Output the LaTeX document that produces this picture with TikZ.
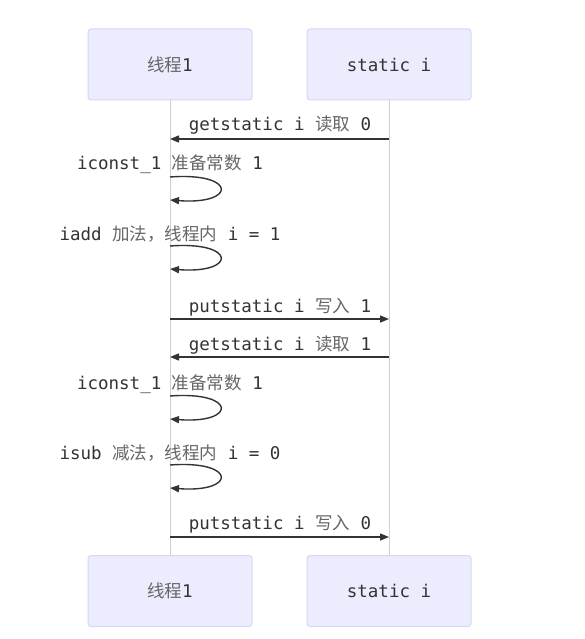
\documentclass[tikz,border=0pt]{standalone}
\usepackage{fontspec}
\setmonofont{DejaVu Sans Mono}
\newfontfamily\cjk{Noto Sans CJK SC}
\usetikzlibrary{arrows.meta}
\definecolor{boxfill}{HTML}{ECECFF}
\definecolor{boxline}{HTML}{D8D8F6}
\definecolor{lifeline}{HTML}{D0D0D0}
\definecolor{ink}{HTML}{333333}
\definecolor{cjkink}{HTML}{666666}
\newcommand{\zh}[1]{{\cjk\color{cjkink}#1}}
\tikzset{
  actor/.style={draw=boxline, fill=boxfill, rounded corners=3pt, line width=1pt,
    minimum width=164pt, minimum height=71pt, inner sep=0pt,
    font=\ttfamily\fontsize{17.5}{17.5}\selectfont, text=ink},
  msg/.style={draw=ink, line width=1.4pt, -{Triangle[length=9pt,width=7pt]}},
  lbl/.style={font=\ttfamily\fontsize{17.5}{17.5}\selectfont, text=ink, inner sep=0pt, anchor=base},
  life/.style={draw=lifeline, line width=1pt}
}
\begin{document}
\begin{tikzpicture}[x=1pt,y=-1pt]
\useasboundingbox (0,0) rectangle (584,639);
\fill[white] (0,0) rectangle (584,639);
\node[actor] (t1top) at (170,64.5) {\raisebox{-1.5pt}{\zh{线程}1}};
\node[actor] (sitop) at (389,64.5) {\raisebox{-1.5pt}{static i}};
\node[actor] (t1bot) at (170,591) {\raisebox{-1.5pt}{\zh{线程}1}};
\node[actor] (sibot) at (389,591) {\raisebox{-1.5pt}{static i}};
\draw[life] (t1top.south) -- (t1bot.north);
\draw[life] (sitop.south) -- (sibot.north);
% message anchors
\foreach \n/\y in {a/139,d/319,e/357,h/537}{
  \coordinate (L\n) at (170,\y);
  \coordinate (R\n) at (389,\y);
}
\foreach \n/\y in {b/177,c/246,f/396,g/465}{
  \coordinate (S\n) at (170,\y);
  \coordinate (E\n) at (170,\y+23);
}
% 1
\node[lbl] (la) at (280,131) {getstatic i \zh{读取} 0};
\draw[msg] (Ra) -- (La);
% 2
\node[lbl] (lb) at (170,169) {iconst\_1 \zh{准备常数} 1};
\draw[msg] (Sb) .. controls (237,172) and (237,205) .. (Eb);
% 3
\node[lbl] (lc) at (170,240) {iadd \zh{加法，线程内} i = 1};
\draw[msg] (Sc) .. controls (237,241) and (237,274) .. (Ec);
% 4
\node[lbl] (ld) at (280,312) {putstatic i \zh{写入} 1};
\draw[msg] (Ld) -- (Rd);
% 5
\node[lbl] (le) at (280,350) {getstatic i \zh{读取} 1};
\draw[msg] (Re) -- (Le);
% 6
\node[lbl] (lf) at (170,389) {iconst\_1 \zh{准备常数} 1};
\draw[msg] (Sf) .. controls (237,391) and (237,424) .. (Ef);
% 7
\node[lbl] (lg) at (170,459) {isub \zh{减法，线程内} i = 0};
\draw[msg] (Sg) .. controls (237,460) and (237,493) .. (Eg);
% 8
\node[lbl] (lh) at (280,529) {putstatic i \zh{写入} 0};
\draw[msg] (Lh) -- (Rh);
\end{tikzpicture}
\end{document}
